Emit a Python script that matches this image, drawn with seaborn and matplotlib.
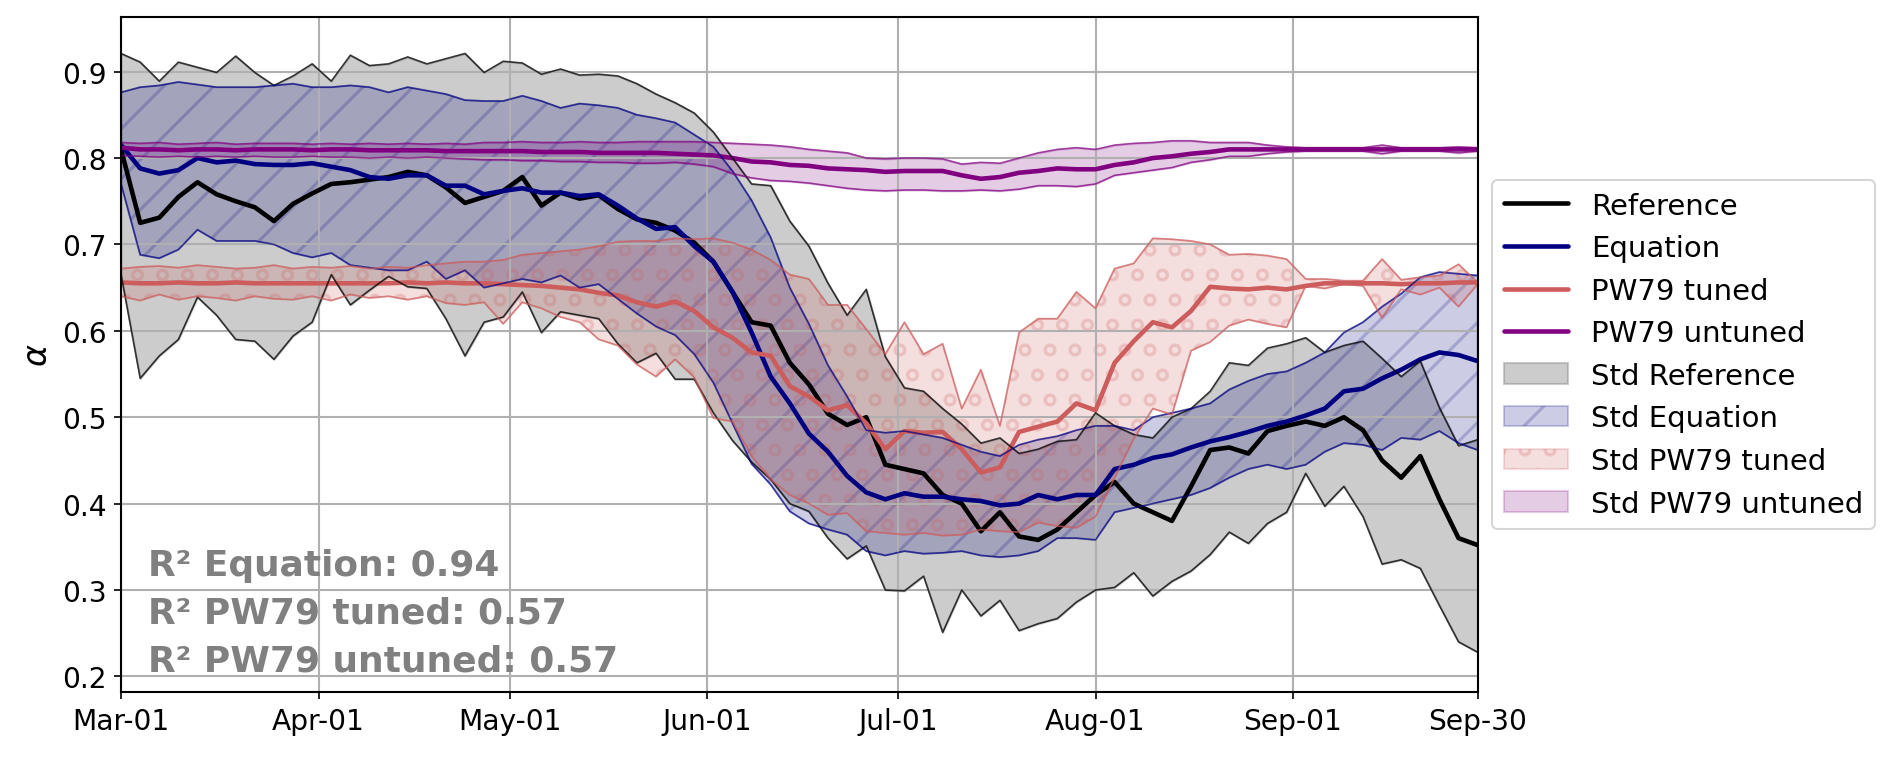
"""
Seasonal alpha: reference vs. equation vs. PW79 (tuned / untuned), with std bands.
Values read off the original figure every 3 days from Mar-01 to Sep-30.
"""
import numpy as np
import pandas as pd
import matplotlib
matplotlib.use("Agg")
import matplotlib.pyplot as plt
import matplotlib.dates as mdates
import seaborn as sns

START = pd.Timestamp("2021-03-01")
END = pd.Timestamp("2021-09-30")
DAY_STEP = 3

# Reference (observations)
ref_mean = [
    0.81, 0.725, 0.731, 0.755, 0.772, 0.758, 0.75, 0.743, 0.727,
    0.747, 0.759, 0.77, 0.772, 0.775, 0.778, 0.784, 0.78, 0.766, 0.748,
    0.755, 0.762, 0.778, 0.745, 0.76, 0.753, 0.757, 0.741, 0.729, 0.725,
    0.716, 0.702, 0.68, 0.645, 0.61, 0.606, 0.563, 0.538, 0.504, 0.491,
    0.50, 0.445, 0.44, 0.435, 0.41, 0.40, 0.368, 0.39, 0.362, 0.358,
    0.37, 0.39, 0.41, 0.425, 0.40, 0.39, 0.38, 0.42, 0.462, 0.465,
    0.458, 0.484, 0.49, 0.495, 0.49, 0.50, 0.485, 0.45, 0.43, 0.455, 0.405, 0.36, 0.352]
ref_hi = [
    0.921, 0.911, 0.889, 0.911, 0.905, 0.899, 0.918, 0.899, 0.884,
    0.895, 0.909, 0.889, 0.919, 0.907, 0.909, 0.917, 0.909, 0.915, 0.921,
    0.899, 0.912, 0.91, 0.897, 0.903, 0.896, 0.897, 0.895, 0.886, 0.874,
    0.864, 0.852, 0.83, 0.80, 0.77, 0.768, 0.727, 0.698, 0.655, 0.618,
    0.648, 0.57, 0.534, 0.53, 0.51, 0.492, 0.47, 0.476, 0.458, 0.463,
    0.472, 0.474, 0.505, 0.49, 0.48, 0.476, 0.50, 0.51, 0.53, 0.563,
    0.56, 0.58, 0.585, 0.592, 0.575, 0.583, 0.588, 0.568, 0.547, 0.565, 0.511, 0.467, 0.474]
ref_lo = [
    0.665, 0.545, 0.571, 0.59, 0.639, 0.618, 0.59, 0.588, 0.567,
    0.594, 0.61, 0.665, 0.63, 0.647, 0.663, 0.651, 0.649, 0.614, 0.571,
    0.61, 0.616, 0.645, 0.598, 0.622, 0.618, 0.614, 0.585, 0.563, 0.574,
    0.544, 0.544, 0.505, 0.473, 0.448, 0.428, 0.40, 0.391, 0.36, 0.336,
    0.351, 0.30, 0.299, 0.316, 0.251, 0.30, 0.27, 0.288, 0.253, 0.261,
    0.267, 0.286, 0.30, 0.303, 0.32, 0.293, 0.31, 0.322, 0.341, 0.367,
    0.354, 0.377, 0.39, 0.435, 0.397, 0.42, 0.385, 0.33, 0.335, 0.325, 0.282, 0.24, 0.228]

# Equation
eq_mean = [
    0.815, 0.788, 0.782, 0.786, 0.80, 0.795, 0.797, 0.793, 0.792,
    0.792, 0.794, 0.79, 0.786, 0.778, 0.776, 0.78, 0.78, 0.768, 0.768,
    0.758, 0.762, 0.765, 0.76, 0.76, 0.756, 0.758, 0.745, 0.73, 0.718,
    0.72, 0.698, 0.68, 0.645, 0.598, 0.547, 0.516, 0.481, 0.46, 0.432,
    0.413, 0.405, 0.412, 0.408, 0.408, 0.405, 0.403, 0.398, 0.40, 0.41,
    0.405, 0.41, 0.41, 0.44, 0.445, 0.453, 0.457, 0.465, 0.472, 0.477,
    0.483, 0.49, 0.495, 0.502, 0.51, 0.53, 0.533, 0.545, 0.555, 0.567, 0.575, 0.572, 0.565]
eq_hi = [
    0.876, 0.882, 0.884, 0.888, 0.885, 0.882, 0.882, 0.882, 0.884,
    0.886, 0.882, 0.882, 0.884, 0.882, 0.876, 0.882, 0.878, 0.874, 0.867,
    0.866, 0.866, 0.872, 0.866, 0.858, 0.863, 0.861, 0.858, 0.85, 0.846,
    0.841, 0.827, 0.813, 0.785, 0.751, 0.708, 0.65, 0.608, 0.56, 0.524,
    0.485, 0.482, 0.484, 0.48, 0.476, 0.468, 0.46, 0.455, 0.468, 0.474,
    0.478, 0.485, 0.49, 0.49, 0.485, 0.50, 0.505, 0.51, 0.516, 0.532,
    0.542, 0.55, 0.553, 0.563, 0.575, 0.598, 0.61, 0.628, 0.643, 0.662, 0.668, 0.666, 0.664]
eq_lo = [
    0.77, 0.688, 0.684, 0.694, 0.717, 0.704, 0.704, 0.704, 0.70,
    0.69, 0.685, 0.69, 0.676, 0.673, 0.67, 0.67, 0.68, 0.66, 0.67,
    0.65, 0.655, 0.66, 0.656, 0.664, 0.65, 0.654, 0.637, 0.62, 0.605,
    0.595, 0.573, 0.54, 0.493, 0.446, 0.422, 0.391, 0.377, 0.37, 0.364,
    0.345, 0.34, 0.345, 0.342, 0.343, 0.345, 0.34, 0.338, 0.34, 0.345,
    0.36, 0.36, 0.358, 0.39, 0.395, 0.40, 0.405, 0.41, 0.418, 0.43,
    0.44, 0.445, 0.44, 0.445, 0.46, 0.47, 0.468, 0.462, 0.476, 0.474, 0.484, 0.47, 0.462]

# PW79 tuned
tuned_mean = [
    0.656, 0.655, 0.655, 0.656, 0.655, 0.655, 0.656, 0.655, 0.655,
    0.655, 0.655, 0.655, 0.655, 0.655, 0.655, 0.656, 0.655, 0.656, 0.655,
    0.655, 0.654, 0.653, 0.652, 0.65, 0.648, 0.644, 0.641, 0.633, 0.628,
    0.634, 0.623, 0.604, 0.592, 0.575, 0.571, 0.536, 0.524, 0.508, 0.514,
    0.493, 0.463, 0.484, 0.482, 0.483, 0.463, 0.436, 0.442, 0.483, 0.489,
    0.495, 0.516, 0.508, 0.563, 0.588, 0.61, 0.604, 0.623, 0.651, 0.649,
    0.648, 0.65, 0.648, 0.652, 0.655, 0.655, 0.655, 0.655, 0.654, 0.655, 0.655, 0.656, 0.656]
tuned_hi = [
    0.672, 0.674, 0.675, 0.673, 0.676, 0.674, 0.672, 0.673, 0.676,
    0.672, 0.674, 0.673, 0.675, 0.672, 0.674, 0.673, 0.676, 0.678, 0.68,
    0.68, 0.682, 0.688, 0.69, 0.692, 0.694, 0.698, 0.703, 0.704, 0.704,
    0.707, 0.706, 0.707, 0.702, 0.694, 0.682, 0.665, 0.66, 0.63, 0.63,
    0.602, 0.573, 0.61, 0.573, 0.585, 0.51, 0.555, 0.49, 0.598, 0.614,
    0.614, 0.645, 0.626, 0.672, 0.678, 0.707, 0.706, 0.704, 0.70, 0.688,
    0.689, 0.687, 0.683, 0.66, 0.66, 0.658, 0.658, 0.683, 0.659, 0.662, 0.664, 0.677, 0.656]
tuned_lo = [
    0.64, 0.635, 0.642, 0.636, 0.64, 0.638, 0.635, 0.64, 0.637,
    0.636, 0.64, 0.635, 0.642, 0.638, 0.64, 0.636, 0.64, 0.632, 0.63,
    0.633, 0.608, 0.633, 0.626, 0.616, 0.61, 0.59, 0.583, 0.561, 0.547,
    0.567, 0.546, 0.499, 0.495, 0.455, 0.428, 0.41, 0.40, 0.387, 0.389,
    0.368, 0.366, 0.364, 0.366, 0.363, 0.364, 0.37, 0.368, 0.367, 0.378,
    0.374, 0.372, 0.385, 0.43, 0.475, 0.51, 0.503, 0.577, 0.587, 0.606,
    0.613, 0.608, 0.604, 0.652, 0.649, 0.654, 0.652, 0.615, 0.648, 0.642, 0.65, 0.628, 0.654]

# PW79 untuned
untuned_mean = [
    0.812, 0.81, 0.81, 0.809, 0.81, 0.81, 0.809, 0.81, 0.81,
    0.81, 0.809, 0.81, 0.81, 0.809, 0.809, 0.809, 0.809, 0.808, 0.808,
    0.808, 0.808, 0.808, 0.807, 0.807, 0.807, 0.806, 0.806, 0.806, 0.806,
    0.805, 0.804, 0.803, 0.80, 0.796, 0.795, 0.792, 0.791, 0.788, 0.787,
    0.786, 0.784, 0.785, 0.785, 0.785, 0.78, 0.776, 0.778, 0.783, 0.785,
    0.788, 0.787, 0.787, 0.792, 0.795, 0.80, 0.802, 0.805, 0.807, 0.81,
    0.81, 0.81, 0.81, 0.81, 0.81, 0.81, 0.81, 0.81, 0.81, 0.81, 0.81, 0.81, 0.81]
untuned_hi = [
    0.818, 0.817, 0.818, 0.816, 0.817, 0.818, 0.816, 0.817, 0.817,
    0.817, 0.816, 0.817, 0.816, 0.817, 0.816, 0.817, 0.816, 0.817, 0.816,
    0.818, 0.818, 0.819, 0.818, 0.818, 0.819, 0.818, 0.818, 0.819, 0.819,
    0.819, 0.819, 0.818, 0.817, 0.816, 0.815, 0.813, 0.81, 0.808, 0.806,
    0.80, 0.799, 0.80, 0.80, 0.799, 0.793, 0.795, 0.794, 0.80, 0.806,
    0.81, 0.812, 0.81, 0.815, 0.817, 0.818, 0.82, 0.82, 0.818, 0.818,
    0.818, 0.815, 0.813, 0.812, 0.812, 0.812, 0.812, 0.815, 0.812, 0.812, 0.812, 0.813, 0.812]
untuned_lo = [
    0.803, 0.802, 0.801, 0.802, 0.801, 0.802, 0.801, 0.802, 0.801,
    0.801, 0.802, 0.801, 0.801, 0.80, 0.801, 0.80, 0.801, 0.80, 0.799,
    0.798, 0.798, 0.797, 0.797, 0.796, 0.796, 0.795, 0.795, 0.794, 0.794,
    0.795, 0.793, 0.79, 0.782, 0.777, 0.774, 0.773, 0.771, 0.768, 0.765,
    0.763, 0.762, 0.763, 0.763, 0.762, 0.762, 0.763, 0.762, 0.764, 0.768,
    0.768, 0.767, 0.77, 0.78, 0.783, 0.786, 0.789, 0.795, 0.798, 0.802,
    0.802, 0.805, 0.807, 0.808, 0.808, 0.808, 0.808, 0.805, 0.808, 0.808, 0.808, 0.806, 0.808]

R2_TEXT = ["R² Equation: 0.94", "R² PW79 tuned: 0.57", "R² PW79 untuned: 0.57"]

# name, mean, lo, hi, color, hatch
SERIES = [
    ("Reference", ref_mean, ref_lo, ref_hi, "black", None),
    ("Equation", eq_mean, eq_lo, eq_hi, "navy", "/"),
    ("PW79 tuned", tuned_mean, tuned_lo, tuned_hi, "indianred", "o"),
    ("PW79 untuned", untuned_mean, untuned_lo, untuned_hi, "purple", None),
]


def main():
    dates = START + pd.to_timedelta(np.arange(len(ref_mean)) * DAY_STEP, unit="D")
    df = pd.DataFrame({"date": dates})
    for name, mean, lo, hi, _, _ in SERIES:
        df[name] = mean
        df[name + "_lo"] = lo
        df[name + "_hi"] = hi

    sns.set_theme(style="ticks", rc={
        "axes.edgecolor": "black", "xtick.color": "black", "ytick.color": "black",
        "text.color": "black", "axes.labelcolor": "black", "axes.linewidth": 1.0,
        "xtick.major.size": 3.5, "ytick.major.size": 3.5,
        "xtick.major.width": 0.8, "ytick.major.width": 0.8,
    })
    plt.rcParams["font.family"] = ["DejaVu Sans"]
    plt.rcParams["axes.axisbelow"] = "line"
    plt.rcParams["hatch.linewidth"] = 1.5

    fig = plt.figure(figsize=(1892 / 150, 759 / 150), dpi=150)
    ax = fig.add_axes([0.064, 0.087, 0.717, 0.889])

    # mean lines first so they come first in the legend
    for name, _, _, _, color, _ in SERIES:
        sns.lineplot(data=df, x="date", y=name, color=color, lw=2.2, label=name, ax=ax)

    for name, _, _, _, color, hatch in SERIES:
        if name == "Reference":
            ax.fill_between(df["date"], df[name + "_lo"], df[name + "_hi"],
                            color="gray", alpha=0.4, label="Std " + name)
            edge_c, edge_a = "black", 0.75
        else:
            ax.fill_between(df["date"], df[name + "_lo"], df[name + "_hi"],
                            color=color, alpha=0.2, hatch=hatch, label="Std " + name)
            edge_c, edge_a = color, 0.7
        ax.plot(df["date"], df[name + "_lo"], color=edge_c, lw=0.8, alpha=edge_a)
        ax.plot(df["date"], df[name + "_hi"], color=edge_c, lw=0.8, alpha=edge_a)

    ax.grid(True, color="#b0b0b0", lw=1.0)
    ticks = list(pd.date_range(START, END, freq="MS")) + [END]
    ax.set_xticks(ticks)
    ax.xaxis.set_major_formatter(mdates.DateFormatter("%b-%d"))
    ax.set_xlim(START, END)
    ax.set_ylim(0.182, 0.963)
    ax.set_yticks([0.2, 0.3, 0.4, 0.5, 0.6, 0.7, 0.8, 0.9])
    ax.tick_params(labelsize=13.5)
    ax.set_xlabel("")
    ax.set_ylabel(r"$\alpha$", fontsize=16)

    ax.text(0.02, 0.022, "\n".join(R2_TEXT), transform=ax.transAxes, fontsize=17.3,
            fontweight="bold", color="gray", ha="left", va="bottom", linespacing=1.5)

    ax.legend(loc="center left", bbox_to_anchor=(1.0, 0.5), fontsize=14,
              handlelength=2.2, frameon=True)

    fig.savefig("out.png", dpi=150)
    plt.close(fig)


if __name__ == "__main__":
    main()
